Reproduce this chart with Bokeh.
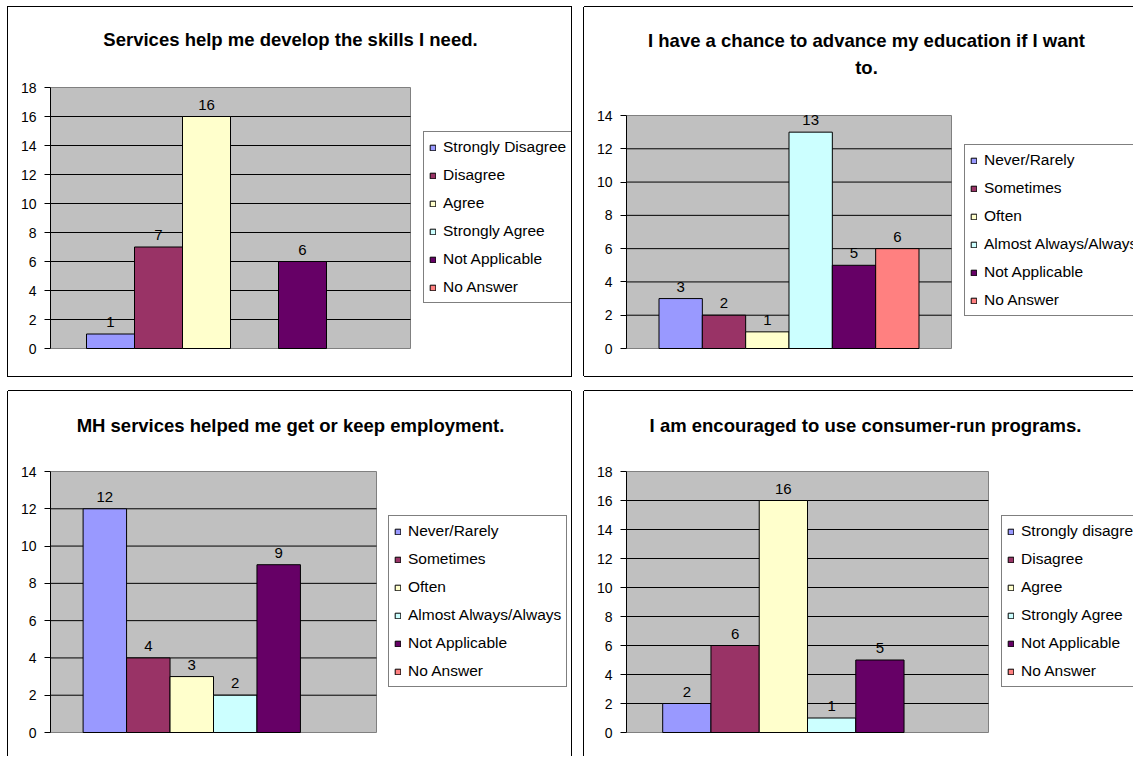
from bokeh.plotting import figure
from bokeh.models import (Range1d, FixedTicker, Legend, LegendItem, Label,
                          ColumnDataSource)
from bokeh.layouts import row, column
from bokeh.embed import file_html
from bokeh.resources import INLINE
from bokeh.core.properties import value

FONT = "Liberation Sans"

# ---------------- data ----------------
series_colors = ["#9999FF", "#993366", "#FFFFCC", "#CCFFFF", "#660066", "#FF8080"]

title_1 = ["Services help me develop the skills I need."]
cats_1 = ["Strongly Disagree", "Disagree", "Agree", "Strongly Agree",
          "Not Applicable", "No Answer"]
vals_1 = [1, 7, 16, 0, 6, 0]
ymax_1 = 18

title_2 = ["I have a chance to advance my education if I want", "to."]
cats_2 = ["Never/Rarely", "Sometimes", "Often", "Almost Always/Always",
          "Not Applicable", "No Answer"]
vals_2 = [3, 2, 1, 13, 5, 6]
ymax_2 = 14

title_3 = ["MH services helped me get or keep employment."]
cats_3 = ["Never/Rarely", "Sometimes", "Often", "Almost Always/Always",
          "Not Applicable", "No Answer"]
vals_3 = [12, 4, 3, 2, 9, 0]
ymax_3 = 14

title_4 = ["I am encouraged to use consumer-run programs."]
cats_4 = ["Strongly disagree", "Disagree", "Agree", "Strongly Agree",
          "Not Applicable", "No Answer"]
vals_4 = [2, 6, 16, 1, 5, 0]
ymax_4 = 18

tick_step = 2


def make_panel(title_lines, cats, vals, ymax, W, H, fl, ft, fw, fh,
               legend_xy, title_x, title_ys, shadow):
    """fl/ft/fw/fh: plot-area box inside the canvas (pixels)."""
    n = len(cats)
    gap = 1.5
    span = n + gap
    x_end = span * (W - fl) / fw
    y_lo = -(H - ft - fh) * ymax / fh
    y_hi = ymax + ft * ymax / fh
    p = figure(width=W, height=H, output_backend="svg", toolbar_location=None,
               tools="", x_range=Range1d(0, x_end), y_range=Range1d(y_lo, y_hi),
               x_axis_location=None,
               min_border_left=fl, min_border_top=0,
               min_border_right=0, min_border_bottom=0)
    p.background_fill_color = "white"
    p.border_fill_color = "white"
    p.outline_line_color = None
    p.xgrid.visible = False
    p.ygrid.visible = False
    p.styles = {"box-shadow": shadow}

    ticks = list(range(0, ymax + 1, tick_step))
    p.yaxis.ticker = FixedTicker(ticks=ticks)
    p.yaxis.bounds = (0, ymax)
    p.yaxis.minor_tick_line_color = None
    p.yaxis.major_tick_out = 6
    p.yaxis.major_tick_in = 0
    p.yaxis.major_tick_line_color = "black"
    p.yaxis.axis_line_color = "black"
    p.yaxis.major_label_standoff = 8
    p.yaxis.major_label_text_font = FONT
    p.yaxis.major_label_text_font_size = "14px"
    p.yaxis.major_label_text_color = "black"

    # plot area and gridlines
    p.quad(left=[0], right=[span], bottom=[0], top=[ymax],
           fill_color="#C0C0C0", line_color="#808080", line_width=1)
    inner = ticks[1:-1]
    p.segment(x0=[0] * len(inner), x1=[span] * len(inner), y0=inner, y1=inner,
              line_color="black", line_width=1)

    centers = [gap / 2 + 0.5 + i for i in range(n)]
    items = []
    for i, (c, v, col) in enumerate(zip(cats, vals, series_colors)):
        # a zero-height bar sits under the plot area (Excel draws nothing there)
        r = p.vbar(x=[centers[i]], top=[v], bottom=0, width=1.0,
                   fill_color=col, line_color="black", line_width=1,
                   level="glyph" if v else "underlay")
        items.append(LegendItem(label=c, renderers=[r]))

    lx = [centers[i] for i, v in enumerate(vals) if v]
    ly = [v for v in vals if v]
    lt = [str(v) for v in vals if v]
    p.text(x=lx, y=ly, text=lt, text_align="center", text_baseline="alphabetic",
           y_offset=-12, text_font=value(FONT), text_font_size="15px",
           text_color="black")

    leg = Legend(items=items, location=legend_xy, glyph_width=7, glyph_height=7,
                 label_height=20, spacing=8, padding=5, label_standoff=7,
                 margin=0, border_line_color="black", border_line_width=1,
                 background_fill_color="white", background_fill_alpha=1.0,
                 label_text_font=FONT, label_text_font_size="15.5px",
                 label_text_color="black")
    p.add_layout(leg)

    for txt, ty in zip(title_lines, title_ys):
        p.add_layout(Label(x=title_x, y=ty, x_units="canvas", y_units="canvas",
                           text=txt, text_align="center",
                           text_baseline="alphabetic", text_font=FONT,
                           text_font_size="18.5px", text_font_style="bold",
                           text_color="black"))
    return p


ALL = "0 0 0 1px black"
L = "-1px 0 0 0 black"
T = "0 -1px 0 0 black"
R = "1px 0 0 0 black"
B = "0 1px 0 0 black"

p1 = make_panel(title_1, cats_1, vals_1, ymax_1, 563, 369, 42, 80, 360, 261,
                (373, 73), 282, [32.3], ALL)
p2 = make_panel(title_2, cats_2, vals_2, ymax_2, 549, 369, 42, 108, 325, 233,
                (338, 60), 282, [33, 59.7], ", ".join([L, T, B]))
p3 = make_panel(title_3, cats_3, vals_3, ymax_3, 563, 365, 42, 80, 326, 261,
                (338, 69), 282, [33.7], ", ".join([L, T, R]))
p4 = make_panel(title_4, cats_4, vals_4, ymax_4, 549, 365, 42, 80, 362, 261,
                (375, 69), 281, [33.7], ", ".join([L, T]))

layout = column(row(p1, p2, spacing=13), row(p3, p4, spacing=13), spacing=15,
                margin=(7, 0, 0, 8))

open("out.html", "w").write(file_html(layout, INLINE))
